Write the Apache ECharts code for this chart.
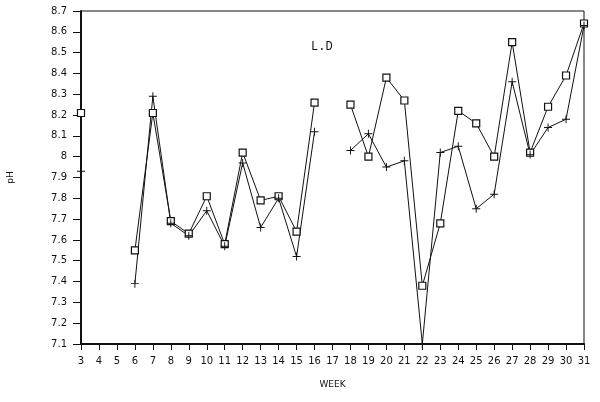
<!DOCTYPE html>
<html>
<head>
<meta charset="utf-8">
<script src="https://cdn.jsdelivr.net/npm/echarts@6/dist/echarts.min.js"></script>
<style>html,body{margin:0;padding:0;background:#fff}#c{width:600px;height:402px}</style>
</head>
<body>
<div id="c"></div>
<script>
const weeks = ['3','4','5','6','7','8','9','10','11','12','13','14','15','16','17','18','19','20','21','22','23','24','25','26','27','28','29','30','31'];
const squareSeries = [8.21,null,null,7.55,8.21,7.69,7.63,7.81,7.58,8.02,7.79,7.81,7.64,8.26,null,8.25,8.00,8.38,8.27,7.38,7.68,8.22,8.16,8.00,8.55,8.02,8.24,8.39,8.64];
const plusSeries   = [7.93,null,null,7.39,8.29,7.68,7.62,7.74,7.57,7.97,7.66,7.80,7.52,8.12,null,8.03,8.11,7.95,7.98,7.10,8.02,8.05,7.75,7.82,8.36,8.01,8.14,8.18,8.63];
const chartTitle = 'L.D';

const plusPath = 'path://M4.4,0h1.2v4.4h4.4v1.2h-4.4v4.4h-1.2v-4.4h-4.4v-1.2h4.4z';
const chart = echarts.init(document.getElementById('c'));
const font = 'DejaVu Sans';
chart.setOption({
  animation: false,
  backgroundColor: '#fff',
  title: {text: chartTitle, left: 306, top: 36, textStyle: {fontFamily: 'Liberation Mono', fontSize: 12, fontWeight: 'normal', color: '#111'}},
  grid: {left: 81, right: 16, top: 11, bottom: 58, show: true, borderColor: '#111', borderWidth: 1, containLabel: false, outerBoundsMode: 'none'},
  xAxis: {
    type: 'category', data: weeks, boundaryGap: false,
    name: 'WEEK', nameLocation: 'middle', nameGap: 36,
    nameTextStyle: {fontFamily: font, fontSize: 9, color: '#111'},
    axisLine: {lineStyle: {color: '#111', width: 2}},
    axisTick: {show: true, length: 6, lineStyle: {color: '#111', width: 1}},
    axisLabel: {fontFamily: font, fontSize: 10, color: '#111', margin: 12, interval: 0},
    splitLine: {show: false}
  },
  yAxis: {
    type: 'value', min: 7.1, max: 8.7, interval: 0.1,
    name: 'pH', nameLocation: 'middle', nameGap: 66, nameRotate: 90,
    nameTextStyle: {fontFamily: font, fontSize: 9, color: '#111'},
    axisLine: {show: true, lineStyle: {color: '#111', width: 2}},
    axisTick: {show: true, length: 8, lineStyle: {color: '#111', width: 1}},
    axisLabel: {fontFamily: font, fontSize: 10, color: '#111', margin: 14, formatter: v => String(+v.toFixed(1))},
    splitLine: {show: false}
  },
  series: [
    {type: 'line', data: squareSeries, connectNulls: false, symbol: 'rect', symbolSize: 7,
     lineStyle: {color: '#111', width: 1}, itemStyle: {color: '#fff', borderColor: '#111', borderWidth: 1.2}},
    {type: 'line', data: plusSeries, connectNulls: false, symbol: plusPath, symbolSize: 8,
     lineStyle: {color: '#111', width: 1}, itemStyle: {color: '#111', borderWidth: 0}}
  ]
});
</script>
</body>
</html>
